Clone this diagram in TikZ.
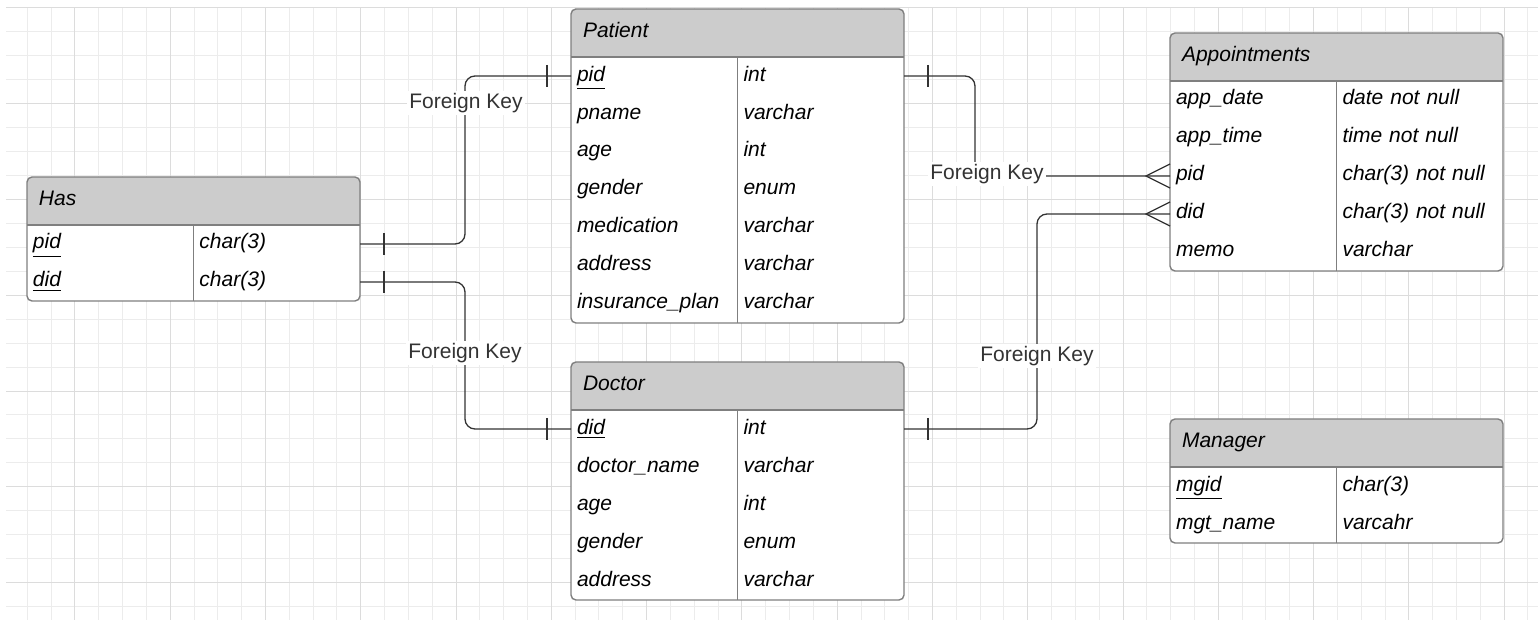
\documentclass[tikz,border=0pt]{standalone}
\usepackage{fontspec}
\setmainfont{Liberation Sans}
\usetikzlibrary{matrix,positioning,backgrounds}

\definecolor{gridminor}{HTML}{ECECEC}
\definecolor{gridmajor}{HTML}{DCDCDC}
\definecolor{headgray}{HTML}{CCCCCC}
\definecolor{tableline}{HTML}{7F7F7F}
\definecolor{fkline}{HTML}{333333}

\begin{document}
\begin{tikzpicture}[x=0.5pt, y=-0.5pt,
  font=\fontsize{10.5}{12}\selectfont,
  tabletitle/.style={anchor=north west, minimum width=166.5pt, minimum height=24pt,
    text width=154.5pt, inner xsep=6pt, inner ysep=0pt, text height=8pt, text depth=3pt,
    align=left, outer sep=0pt, font=\fontsize{10.5}{12}\selectfont\itshape},
  tablerows/.style={matrix of nodes, inner sep=0pt, outer sep=0pt, row sep=0pt, column sep=0pt,
    nodes={text width=77.25pt, inner xsep=3pt, inner ysep=4pt, text height=8pt, text depth=3pt,
      align=left, outer sep=0pt, anchor=center, font=\fontsize{10.5}{12}\selectfont\itshape}},
  fk/.style={draw=fkline, line width=0.65pt, rounded corners=5pt},
  fklabel/.style={fill=white, inner sep=1pt, text=fkline}
]
\useasboundingbox (0,0) rectangle (1538,620);

% tables
\node[tabletitle] (has-head) at (27,177) {Has};
\matrix (has) [tablerows, below right=0pt of has-head.south west]
{
	\underline{pid} & char(3) \\
	\underline{did} & char(3) \\
};

\node[tabletitle] (pat-head) at (571,9) {Patient};
\matrix (pat) [tablerows, below right=0pt of pat-head.south west]
{
	\underline{pid} & int \\
	pname & varchar \\
	age & int \\
	gender & enum \\
	medication & varchar \\
	address & varchar \\
	insurance\_plan & varchar \\
};

\node[tabletitle] (doc-head) at (571,362) {Doctor};
\matrix (doc) [tablerows, below right=0pt of doc-head.south west]
{
	\underline{did} & int \\
	doctor\_name & varchar \\
	age & int \\
	gender & enum \\
	address & varchar \\
};

\node[tabletitle] (app-head) at (1170,33) {Appointments};
\matrix (app) [tablerows, below right=0pt of app-head.south west]
{
	app\_date & date not null \\
	app\_time & time not null \\
	pid & char(3) not null \\
	did & char(3) not null \\
	memo & varchar \\
};

\node[tabletitle] (mgr-head) at (1170,419) {Manager};
\matrix (mgr) [tablerows, below right=0pt of mgr-head.south west]
{
	\underline{mgid} & char(3) \\
	mgt\_name & varcahr \\
};

% grid paper and table fills
\begin{scope}[on background layer]
  \foreach \k in {0,...,63}
    \draw[gridminor, line width=0.5pt] ({27.3+23.82*\k},8) -- ({27.3+23.82*\k},620);
  \foreach \k in {0,...,25}
    \draw[gridminor, line width=0.5pt] (6,{8+23.94*\k}) -- (1538,{8+23.94*\k});
  \foreach \k in {2,6,...,62}
    \draw[gridmajor, line width=0.5pt] ({27.3+23.82*\k},8) -- ({27.3+23.82*\k},620);
  \foreach \k in {0,4,...,24}
    \draw[gridmajor, line width=0.5pt] (6,{8+23.94*\k}) -- (1538,{8+23.94*\k});
  \foreach \tbl in {has,pat,doc,app,mgr} {
    \fill[white, rounded corners=2.5pt] (\tbl-head.north west) rectangle (\tbl.south east);
    \fill[headgray, rounded corners=2.5pt] (\tbl-head.north west) rectangle (\tbl-head.south east);
    \fill[headgray] (\tbl-head.west) rectangle (\tbl-head.south east);
  }
\end{scope}

\foreach \tbl in {has,pat,doc,app,mgr} {
  \draw[tableline, line width=0.7pt, rounded corners=2.5pt] (\tbl-head.north west) rectangle (\tbl.south east);
  \draw[tableline, line width=0.7pt] (\tbl-head.south west) -- (\tbl-head.south east);
  \draw[tableline, line width=0.6pt] (\tbl-1-2.north west) -- (\tbl-1-2.north west |- \tbl.south);
}

% foreign keys
\coordinate (bend1) at (465,0);
\coordinate (bend3) at (975,0);
\coordinate (bend4) at (1037,0);

\draw[fk] (has-1-2.east) -| (bend1 |- pat-1-1.west) -- (pat-1-1.west);
\draw[fk] (has-2-2.east) -| (bend1 |- doc-1-1.west) -- (doc-1-1.west);
\draw[fk] (pat-1-2.east) -| (bend3 |- app-3-1.west) -- (app-3-1.west);
\draw[fk] (doc-1-2.east) -| (bend4 |- app-4-1.west) -- (app-4-1.west);

% one ends
\foreach \end/\off in {has-1-2.east/12pt, has-2-2.east/12pt, pat-1-2.east/12pt,
                       doc-1-2.east/12pt, pat-1-1.west/-12pt, doc-1-1.west/-12pt}
  \draw[fk] ([xshift=\off, yshift=5.5pt]\end) -- ([xshift=\off, yshift=-5.5pt]\end);

% many ends
\foreach \r in {3,4}
  \draw[fk, rounded corners=0pt] ([yshift=6pt]app-\r-1.west) -- ([xshift=-12pt]app-\r-1.west)
    -- ([yshift=-6pt]app-\r-1.west);

\node[fklabel] (fk-has-pat) at (466,103) {Foreign Key};
\node[fklabel] (fk-has-doc) at (465,353) {Foreign Key};
\node[fklabel] (fk-pat-app) at (987,174) {Foreign Key};
\node[fklabel] (fk-doc-app) at (1037,356) {Foreign Key};
\end{tikzpicture}
\end{document}
